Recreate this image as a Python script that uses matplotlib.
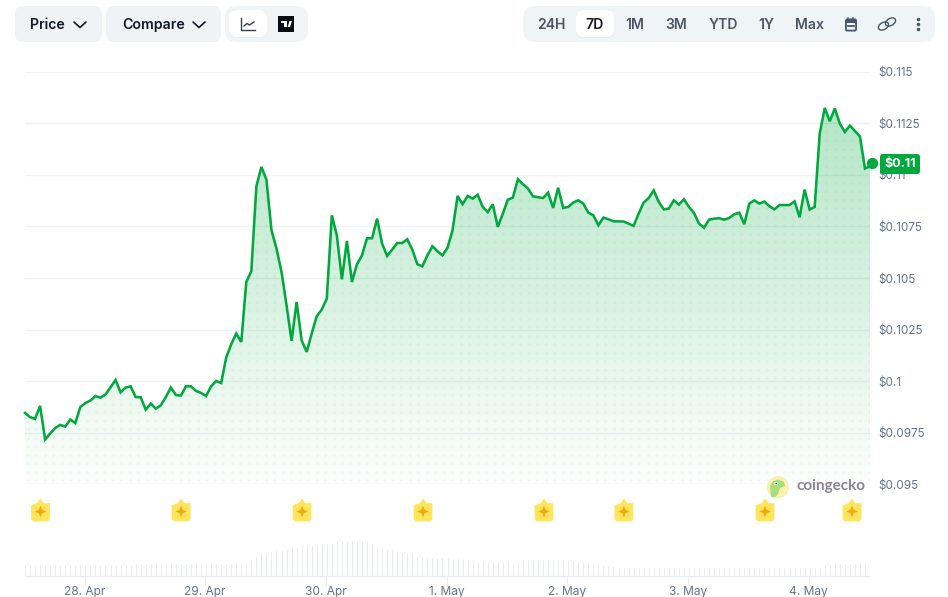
import numpy as np
import matplotlib
matplotlib.use("Agg")
import matplotlib.pyplot as plt
from matplotlib.patches import FancyBboxPatch, Circle, Polygon, Rectangle, Ellipse

prices = [
 0.09846,0.09826,0.09817,0.09880,0.09717,0.09746,0.09773,0.09788,0.09780,0.09814,
 0.09797,0.09875,0.09894,0.09906,0.09928,0.09920,0.09935,0.09970,0.10006,0.09946,
 0.09969,0.09975,0.09923,0.09922,0.09862,0.09891,0.09867,0.09883,0.09923,0.09969,
 0.09933,0.09930,0.09975,0.09975,0.09953,0.09943,0.09928,0.09975,0.10001,0.09991,
 0.10114,0.10179,0.10231,0.10190,0.10481,0.10533,0.10945,0.11039,0.10977,0.10732,
 0.10643,0.10530,0.10368,0.10195,0.10384,0.10198,0.10142,0.10231,0.10315,0.10347,
 0.10400,0.10804,0.10707,0.10494,0.10680,0.10481,0.10567,0.10610,0.10693,0.10693,
 0.10788,0.10667,0.10607,0.10638,0.10670,0.10670,0.10688,0.10638,0.10567,0.10557,
 0.10610,0.10654,0.10630,0.10610,0.10647,0.10731,0.10898,0.10858,0.10898,0.10885,
 0.10904,0.10845,0.10820,0.10858,0.10748,0.10812,0.10880,0.10890,0.10979,0.10955,
 0.10934,0.10896,0.10892,0.10888,0.10914,0.10840,0.10938,
 0.10840,0.10845,0.10866,0.10877,0.10861,0.10817,0.10804,0.10756,0.10793,0.10785,
 0.10775,0.10775,0.10774,0.10764,0.10753,0.10812,0.10866,0.10888,0.10925,0.10869,
 0.10833,0.10837,0.10877,0.10856,0.10882,0.10845,0.10816,0.10764,0.10744,0.10783,
 0.10788,0.10790,0.10783,0.10791,0.10809,0.10817,0.10761,0.10861,0.10877,0.10861,
 0.10871,0.10848,0.10833,0.10854,0.10854,0.10854,0.10872,0.10795,0.10929,0.10832,
 0.10845,0.11200,0.11325,0.11260,0.11322,0.11249,0.11208,0.11239,0.11213,0.11187,
 0.11031,0.11042,
]
volumes = [
 9.7,9.7,10,10.5,11,11,11,11,11,10.5,10.5,10.5,10.5,10.5,10.5,10.5,10.5,10.5,10.5,11,
 11,11,11.5,11.5,12,12,11.5,11.5,11.5,11.5,11.5,11.5,11.5,11.5,11.5,12,12,12,12,12,
 12,12,12,12,13.5,15.7,19.7,21.7,22.3,24.7,25.7,25.7,26.3,27.3,28.3,30.3,30.7,30.7,31.7,31.7,
 31.7,32.3,34.7,35,35,35,35.3,34.7,33.7,33,29.7,27.3,26.7,25.7,23.7,23,23,21.7,19,18.3,
 18,17.3,17.3,17.3,17.3,16.7,16.3,16.3,15.7,15.7,13.7,13.7,13.7,13.7,13.7,13.7,13.7,14,15,15.2,
 15.2,15.2,15.2,15.2,15.2,15.2,15.2,15.2,15.3,14.5,14,13.5,13,12,11.5,11,10,9.5,8.5,8,
 8,8,8,8,8,8,8,8,8,8,8,8,8,8,8,8,8,8,8,7.5,
 7.5,7.5,7.5,7.5,7.5,7.5,7.5,7.5,7.5,7.5,7.5,7.5,7.5,7.5,7.5,7.5,7.5,7.5,8.7,9.3,
 10,11.5,11.5,12,12,12,12.5,12.5,14.7,
]
start_hour = -11.83
hours = [start_hour + i for i in range(len(prices))]

y_ticks = [0.095,0.0975,0.1,0.1025,0.105,0.1075,0.11,0.1125,0.115]
y_labels = ["$0.095","$0.0975","$0.1","$0.1025","$0.105","$0.1075","$0.11","$0.1125","$0.115"]
day_ticks = [0,24,48,72,96,120,144]
day_labels = ["28. Apr","29. Apr","30. Apr","1. May","2. May","3. May","4. May"]
event_hours = [-8.75,19.2,43.25,67.3,91.35,107.25,135.3,152.6]
last_price = 0.11058
last_label = "$0.11"
range_labels = ["24H","7D","1M","3M","YTD","1Y","Max"]

GREEN = "#00a83e"; GRID = "#eff2f5"; VOL = "#e9edf2"; AXT = "#64748b"; DARK = "#111827"; MID = "#4b5563"; PANEL = "#eff3f6"
W, H = 948, 597
plt.rcParams["font.family"] = ["Inter", "DejaVu Sans"]
fig = plt.figure(figsize=(W/100, H/100), dpi=100, facecolor="white")

def pos(l, t, r, b):
    return [l/W, (H-b)/H, (r-l)/W, (b-t)/H]

ax = fig.add_axes(pos(25, 71.8, 870, 484.3))
ax.set_xlim(start_hour, start_hour + 168)
ax.set_ylim(0.095, 0.115)
ax.patch.set_alpha(0)
for s in ax.spines.values():
    s.set_visible(False)
ax.set_yticks(y_ticks, y_labels)
ax.yaxis.tick_right()
ax.tick_params(axis="y", length=0, pad=5.8, labelsize=8.4, labelcolor=AXT)
ax.set_xticks([])
ax.grid(axis="y", color=GRID, lw=1.0, zorder=0)
ax.set_axisbelow(True)

poly_xy = list(zip(hours, prices)) + [(hours[-1], 0.095), (hours[0], 0.095)]
clip = Polygon(poly_xy, closed=True, transform=ax.transData, fc="none", ec="none")
ax.add_patch(clip)
grad = np.zeros((256, 2, 4))
grad[..., 1] = 168/255; grad[..., 2] = 62/255
grad[..., 3] = np.linspace(0.3, 0.012, 256)[:, None]
im = ax.imshow(grad, extent=[start_hour, start_hour+168, 0.095, 0.1135], aspect="auto", origin="upper", zorder=1, interpolation="bilinear")
im.set_clip_path(clip)
ax.set_xlim(start_hour, start_hour + 168); ax.set_ylim(0.095, 0.115)

# decorative dot texture of the fill
dx = 8.5/5.03; dy = 8.5*0.02/412.5
gx, gy = np.meshgrid(np.arange(start_hour+0.5, start_hour+168, dx), np.arange(0.0952, 0.1135, dy))
sc = ax.scatter(gx.ravel(), gy.ravel(), s=3.4, c=GREEN, alpha=0.05, linewidths=0, zorder=2)
sc.set_clip_path(clip)

ax.plot(hours, prices, color=GREEN, lw=1.85, solid_joinstyle="miter", zorder=3, clip_on=False)
ax.scatter([hours[-1]+0.3], [last_price], s=66, c=GREEN, linewidths=0, zorder=4, clip_on=False)

# volume
vx = fig.add_axes(pos(25, 535, 870, 575.5))
vx.set_xlim(start_hour, start_hour + 168)
vx.set_ylim(0, 40.5)
vx.patch.set_alpha(0)
for k in ("top", "left", "right"):
    vx.spines[k].set_visible(False)
vx.spines["bottom"].set_color(VOL); vx.spines["bottom"].set_linewidth(0.9)
vx.vlines(hours, 0, volumes, color=VOL, lw=0.72)
vx.set_yticks([])
vx.set_xticks(day_ticks, day_labels)
vx.tick_params(axis="x", length=7, width=0.8, color=VOL, pad=0.2, labelsize=8.6, labelcolor=AXT)

# overlay in pixel coordinates
ov = fig.add_axes([0, 0, 1, 1], zorder=10)
ov.set_xlim(0, W); ov.set_ylim(H, 0); ov.axis("off"); ov.patch.set_alpha(0)

def box(l, t, r, b, fc, rad=8, z=1):
    ov.add_patch(FancyBboxPatch((l+rad, t+rad), r-l-2*rad, b-t-2*rad, boxstyle=f"round,pad={rad},rounding_size={rad}",
                                fc=fc, ec="none", zorder=z, mutation_aspect=1))

def chevron(cx, cy):
    ov.plot([cx-6, cx, cx+6], [cy-2.5, cy+3, cy-2.5], color=DARK, lw=1.2, solid_capstyle="round", solid_joinstyle="round", zorder=3)

box(15, 6, 102, 42, PANEL)
box(106, 6, 221, 42, PANEL)
box(225, 6, 308, 42, "#f0f4f7", rad=12)
box(229, 10, 267, 38, "#dfe8e8", rad=8, z=1.5)
box(229, 10, 267, 37.3, "white", rad=8, z=2)
ov.text(30.5, 24.8, "Price", fontsize=10.1, weight="semibold", color=DARK, va="center", ha="left", zorder=3)
ov.text(122.3, 24.8, "Compare", fontsize=10.2, weight="semibold", color=DARK, va="center", ha="left", zorder=3)
chevron(80, 24.5); chevron(199, 24.5)
# line icon
ov.plot([241.5, 241.5, 255], [17.5, 29.5, 29.5], color="#333f52", lw=1.0, zorder=3)
ov.plot([244, 247, 249.5, 254], [26, 23.5, 25, 22], color="#333f52", lw=1.0, zorder=3)
# TV icon
ov.add_patch(Rectangle((278, 16), 16, 16, fc="#0a0a14", ec="none", zorder=3))
ov.add_patch(Polygon([(281, 21), (287, 21), (287, 27), (284.5, 27), (284.5, 23.3), (281, 23.3)], fc="white", ec="none", zorder=4))
ov.add_patch(Polygon([(287.6, 27), (289.5, 21), (292, 21), (290, 27)], fc="white", ec="none", zorder=4))

box(523, 6, 935, 42, "#eff4f7", rad=12)
box(576, 10, 614, 38, "#dfe8e8", rad=8, z=1.5)
box(576, 10, 614, 37.3, "white", rad=8, z=2)
range_x = [551, 595, 634.5, 676, 723, 766, 810]
for lab, x in zip(range_labels, range_x):
    ov.text(x, 24.6, lab, fontsize=10.1, weight="semibold", color=DARK if lab == "7D" else MID, va="center", ha="center", zorder=3)
# calendar
ICON = "#475569"
ov.add_patch(FancyBboxPatch((846.5, 20), 9, 10, boxstyle="round,pad=0.6,rounding_size=1.5", fc="none", ec=ICON, lw=1.3, zorder=3))
ov.add_patch(Rectangle((846, 19.5), 10, 3, fc=ICON, ec="none", zorder=3))
ov.plot([848.5, 848.5], [17.5, 20], color=ICON, lw=1.1, zorder=3)
ov.plot([853.5, 853.5], [17.5, 20], color=ICON, lw=1.1, zorder=3)
ov.plot([848, 854], [25.5, 25.5], color=ICON, lw=1.3, zorder=3)
# link
for cx, cy in [(883.5, 26), (890.5, 22)]:
    ov.add_patch(Ellipse((cx, cy), 11, 7, angle=-30, fc="none", ec=ICON, lw=1.0, zorder=3))
# dots
ov.scatter([918.5]*3, [19, 24, 29], s=6.5, c=ICON, linewidths=0, zorder=3)

# flags placed through the chart's x scale
for h in event_hours:
    px = ax.transData.transform((h, 0.1))[0]
    verts = [(px-9, 505.5), (px-3, 503.5), (px, 499), (px+3, 503.5), (px+9, 503.5), (px+9, 519), (px+7, 521), (px-7, 521), (px-9, 519), (px-9, 505.5)]
    ov.add_patch(Polygon(verts, closed=True, fc="#ffe45c", ec="#ffe45c", lw=0.5, joinstyle="round", zorder=3))
    cy = 511.5; r = 5.8; q = 1.7
    star = [(px, cy-r), (px+q, cy-q), (px+r, cy), (px+q, cy+q), (px, cy+r), (px-q, cy+q), (px-r, cy), (px-q, cy-q)]
    ov.add_patch(Polygon(star, closed=True, fc="#ecab0f", ec="none", zorder=4))

# coingecko mark
ov.add_patch(Circle((778, 487), 11, fc="#fbf0b0", ec="none", zorder=3))
ov.add_patch(Polygon([(771, 497), (770, 486), (773, 481), (778, 479.5), (784, 482), (785, 486), (780, 488), (778, 494), (775, 497.5)],
                     fc="#a6e07a", ec="none", joinstyle="round", zorder=4))
ov.add_patch(Circle((776, 483.5), 1.6, fc="white", ec="none", zorder=5))
ov.add_patch(Circle((776.3, 483.5), 0.8, fc="#444444", ec="none", zorder=6))
ov.text(796.5, 486, "coingecko", fontsize=11, weight="bold", color="#8a8494", family=["Lato", "DejaVu Sans"], va="center", ha="left", zorder=4)

# last price badge
box(880, 154, 920, 174, GREEN, rad=3, z=5)
ov.text(900, 164.3, last_label, fontsize=9, weight="bold", color="white", va="center", ha="center", zorder=6)

fig.savefig("out.png", dpi=100)
